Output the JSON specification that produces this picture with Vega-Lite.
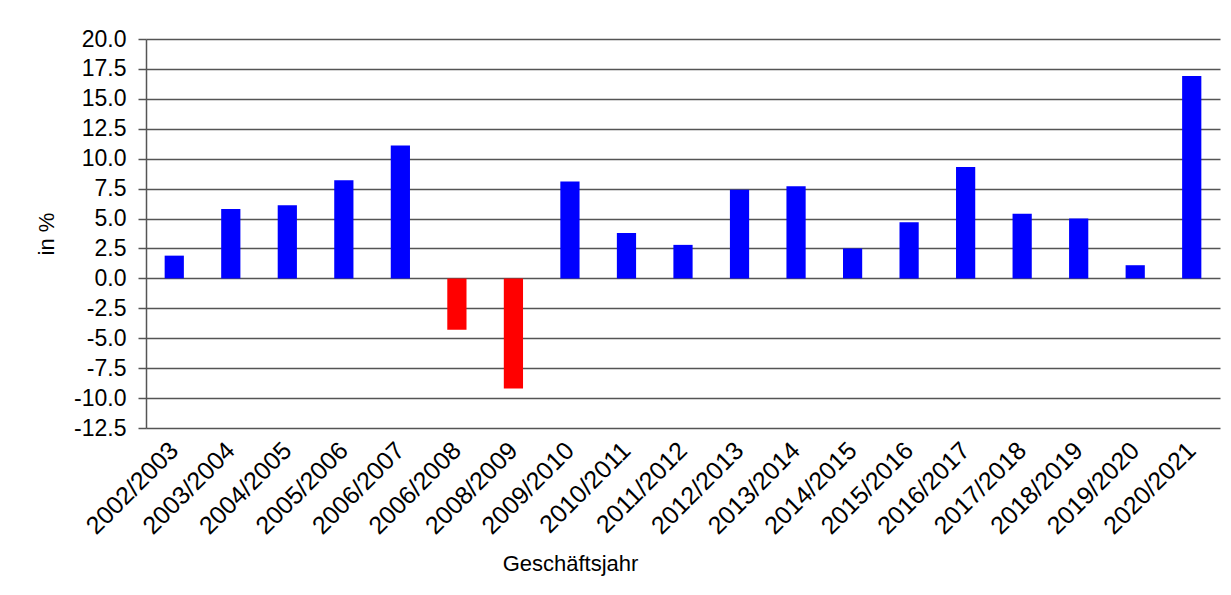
{
  "$schema": "https://vega.github.io/schema/vega-lite/v6.json",
  "width": 1074,
  "height": 389,
  "autosize": {"type": "none"},
  "padding": {"left": 146, "top": 39, "right": 11, "bottom": 167},
  "background": "white",
  "config": {
    "view": {"stroke": null},
    "font": "Liberation Sans",
    "axis": {"labelFont": "Liberation Sans", "titleFont": "Liberation Sans", "labelColor": "#000", "titleColor": "#000", "titleFontWeight": "normal"}
  },
  "data": {
    "values": [
      {"jahr": "2002/2003", "wert": 1.9},
      {"jahr": "2003/2004", "wert": 5.8},
      {"jahr": "2004/2005", "wert": 6.1},
      {"jahr": "2005/2006", "wert": 8.2},
      {"jahr": "2006/2007", "wert": 11.1},
      {"jahr": "2006/2008", "wert": -4.3},
      {"jahr": "2008/2009", "wert": -9.2},
      {"jahr": "2009/2010", "wert": 8.1},
      {"jahr": "2010/2011", "wert": 3.8},
      {"jahr": "2011/2012", "wert": 2.8},
      {"jahr": "2012/2013", "wert": 7.4},
      {"jahr": "2013/2014", "wert": 7.7},
      {"jahr": "2014/2015", "wert": 2.5},
      {"jahr": "2015/2016", "wert": 4.7},
      {"jahr": "2016/2017", "wert": 9.3},
      {"jahr": "2017/2018", "wert": 5.4},
      {"jahr": "2018/2019", "wert": 5.0},
      {"jahr": "2019/2020", "wert": 1.1},
      {"jahr": "2020/2021", "wert": 16.9}
    ]
  },
  "mark": {"type": "bar"},
  "encoding": {
    "x": {
      "field": "jahr",
      "type": "nominal",
      "sort": null,
      "scale": {"paddingInner": 0.66, "paddingOuter": 0.33},
      "axis": {
        "title": "Geschäftsjahr",
        "titleFontSize": 22,
        "titleX": 424,
        "titleY": 142,
        "titleAnchor": "middle",
        "titleBaseline": "alphabetic",
        "labelAngle": -45,
        "labelAlign": "right",
        "labelBaseline": "middle",
        "labelFontSize": 25,
        "labelPadding": 18,
        "labelOverlap": false,
        "ticks": false,
        "domain": false,
        "grid": false
      }
    },
    "y": {
      "field": "wert",
      "type": "quantitative",
      "scale": {"domain": [-12.5, 20], "nice": false, "zero": false},
      "axis": {
        "title": "in %",
        "titleFontSize": 22,
        "titleX": -88,
        "titlePadding": 10,
        "values": [-12.5, -10, -7.5, -5, -2.5, 0, 2.5, 5, 7.5, 10, 12.5, 15, 17.5, 20],
        "labelExpr": "(datum.value < 0 ? '-' : '') + format(abs(datum.value), '.1f')",
        "labelFontSize": 23,
        "labelPadding": 12,
        "tickSize": 8,
        "tickColor": "#555",
        "tickWidth": 1.5,
        "domainColor": "#555",
        "domainWidth": 1.5,
        "grid": true,
        "gridColor": "#555",
        "gridWidth": 1.5
      }
    },
    "color": {
      "condition": {"test": "datum.wert < 0", "value": "#ff0000"},
      "value": "#0000ff"
    }
  }
}
